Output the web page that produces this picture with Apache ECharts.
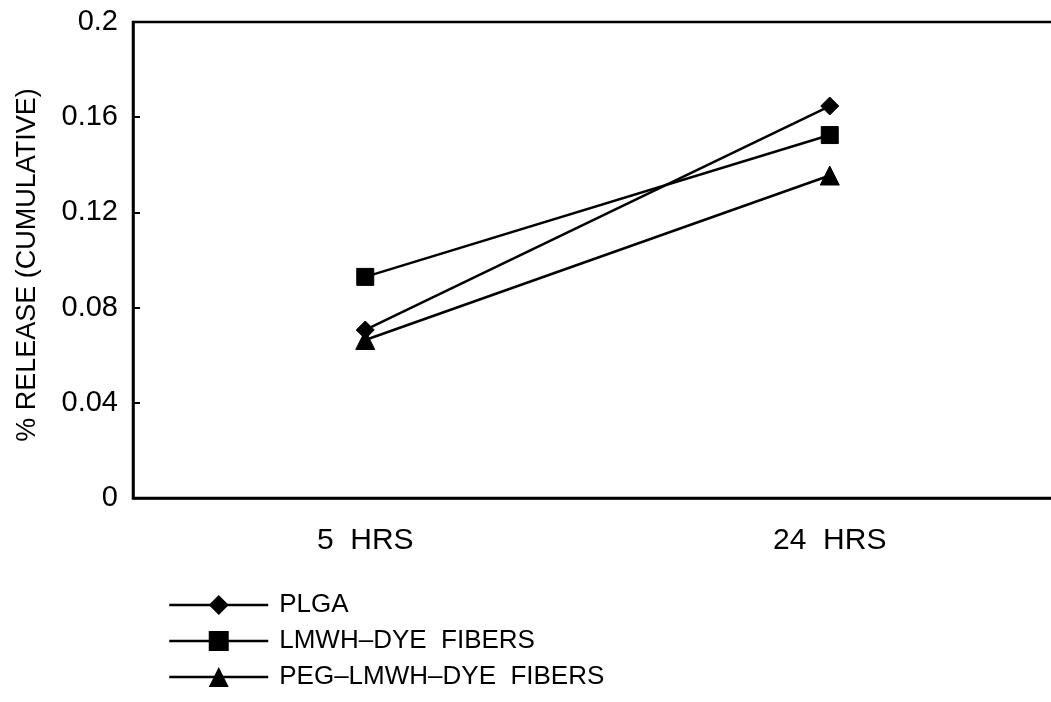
<!DOCTYPE html>
<html>
<head>
<meta charset="utf-8">
<script src="https://cdn.jsdelivr.net/npm/echarts@6/dist/echarts.min.js"></script>
<style>html,body{margin:0;padding:0;background:#fff}#c{width:1051px;height:702px}</style>
</head>
<body>
<div id="c"></div>
<script>
const categories = ['5  HRS', '24  HRS'];
const plga = [0.0706, 0.1647];
const lmwhDye = [0.0929, 0.1525];
const pegLmwhDye = [0.0664, 0.1355];
const yTickLabels = ['0', '0.04', '0.08', '0.12', '0.16', '0.2'];
const seriesNames = ['PLGA', 'LMWH\u2013DYE  FIBERS', 'PEG\u2013LMWH\u2013DYE  FIBERS'];

const font = 'Liberation Sans';
const chart = echarts.init(document.getElementById('c'), null, {renderer: 'canvas'});
function mk(name, data, symbol, size) {
  return {
    name, type: 'line', data, symbol, symbolSize: size,
    lineStyle: {color: '#000', width: 2.5},
    itemStyle: {color: '#000', borderColor: '#000'},
    animation: false
  };
}
const legendTops = [587, 623, 659];
const legends = seriesNames.map((n, i) => ({
  orient: 'vertical', left: 163, top: legendTops[i], itemWidth: 99, itemHeight: 25,
  lineStyle: {width: 2.5, color: '#000'},
  textStyle: {color: '#000', fontFamily: font, fontSize: 26, padding: [0, 0, 0, 6]},
  data: [n]
}));
chart.setOption({
  animation: false,
  backgroundColor: '#fff',
  grid: {left: 133, width: 929, top: 22, height: 476, show: true, borderColor: '#000', borderWidth: 2.5,
    containLabel: false, outerBoundsMode: 'none'},
  xAxis: {
    type: 'category', data: categories, boundaryGap: true,
    axisLine: {lineStyle: {color: '#000', width: 2.5}},
    axisTick: {show: false},
    axisLabel: {color: '#000', fontFamily: font, fontSize: 30, margin: 28}
  },
  yAxis: {
    type: 'value', min: 0, max: 0.2, interval: 0.04,
    name: '% RELEASE (CUMULATIVE)', nameLocation: 'middle', nameGap: 92,
    nameTextStyle: {color: '#000', fontFamily: font, fontSize: 27, padding: [0, 10, 0, 0]},
    axisLine: {show: true, lineStyle: {color: '#000', width: 2.5}},
    axisTick: {show: true, inside: true, length: 7, lineStyle: {color: '#000', width: 2}},
    splitLine: {show: false},
    axisLabel: {color: '#000', fontFamily: font, fontSize: 29, margin: 15,
      formatter: (v, i) => yTickLabels[i]}
  },
  legend: legends,
  series: [
    mk(seriesNames[0], plga, 'diamond', 18),
    mk(seriesNames[1], lmwhDye, 'rect', 17),
    mk(seriesNames[2], pegLmwhDye, 'triangle', 19)
  ]
});
</script>
</body>
</html>
